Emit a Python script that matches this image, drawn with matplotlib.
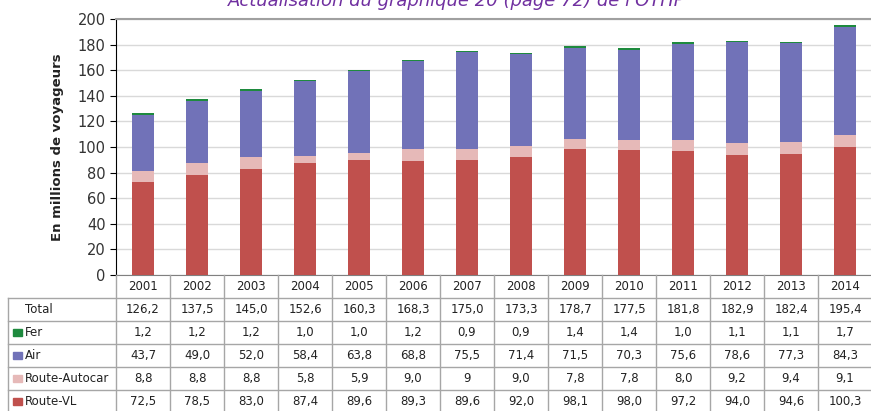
import numpy as np
import matplotlib
matplotlib.use("Agg")
import matplotlib.pyplot as plt

years = ["2001", "2002", "2003", "2004", "2005", "2006", "2007",
         "2008", "2009", "2010", "2011", "2012", "2013", "2014"]
route_vl = [72.5, 78.5, 83.0, 87.4, 89.6, 89.3, 89.6, 92.0, 98.1, 98.0, 97.2, 94.0, 94.6, 100.3]
autocar = [8.8, 8.8, 8.8, 5.8, 5.9, 9.0, 9.0, 9.0, 7.8, 7.8, 8.0, 9.2, 9.4, 9.1]
air = [43.7, 49.0, 52.0, 58.4, 63.8, 68.8, 75.5, 71.4, 71.5, 70.3, 75.6, 78.6, 77.3, 84.3]
fer = [1.2, 1.2, 1.2, 1.0, 1.0, 1.2, 0.9, 0.9, 1.4, 1.4, 1.0, 1.1, 1.1, 1.7]
total = [126.2, 137.5, 145.0, 152.6, 160.3, 168.3, 175.0, 173.3, 178.7, 177.5, 181.8, 182.9, 182.4, 195.4]
# table text as printed (2007 autocar shows "9")
autocar_txt = ["8,8", "8,8", "8,8", "5,8", "5,9", "9,0", "9", "9,0", "7,8", "7,8", "8,0", "9,2", "9,4", "9,1"]

c_vl = "#C0504D"
c_auto = "#E6B9B8"
c_air = "#7172B8"
c_fer = "#1E8A3E"

W, H = 871, 411
fig = plt.figure(figsize=(W / 100, H / 100), dpi=100)

def fx(px):
    return px / W

def fy(py):
    return 1 - py / H

# bar area
ax = fig.add_axes([fx(116), fy(275), fx(872 - 116), fy(19) - fy(275)])
x = np.arange(len(years))
bw = 0.4
b1 = np.array(route_vl)
b2 = b1 + np.array(autocar)
b3 = b2 + np.array(air)
ax.bar(x, route_vl, bw, color=c_vl, zorder=3)
ax.bar(x, autocar, bw, bottom=b1, color=c_auto, zorder=3)
ax.bar(x, air, bw, bottom=b2, color=c_air, zorder=3)
ax.bar(x, fer, bw, bottom=b3, color=c_fer, zorder=3)

ax.set_xlim(-0.5, 13.5)
ax.set_ylim(0, 200)
ax.set_yticks(range(0, 201, 20))
ax.yaxis.grid(True, color="#D9D9D9", linewidth=1, zorder=0)
ax.set_xticks([])
ax.tick_params(axis="y", labelsize=10.5, labelcolor="#333333", length=4, color="#000000")
ax.spines["right"].set_visible(False)
ax.spines["left"].set_color("black")
ax.spines["top"].set_color("#A0A0A0")
ax.spines["top"].set_linewidth(1.5)
ax.spines["bottom"].set_color("#808080")
ax.set_ylabel("En millions de voyageurs", fontsize=9.5, fontweight="bold", color="#222222", labelpad=10)

# data table
tx = fig.add_axes([fx(8), fy(413), fx(864), fy(275) - fy(413)])
tx.set_xlim(-2.5, 13.5)
tx.set_ylim(6, 0)
tx.axis("off")
grid_c = "#A6A6A6"
for r in range(1, 7):
    tx.plot([-2.5, 13.5], [r, r], color=grid_c, lw=1, clip_on=False)
tx.plot([-2.5, -2.5], [1, 6], color=grid_c, lw=1, clip_on=False)
for k in range(15):
    tx.plot([k - 0.5, k - 0.5], [0, 6], color=grid_c, lw=1, clip_on=False)

fmt = lambda v: ("%.1f" % v).replace(".", ",")
rows = [
    ("Total", None, [fmt(v) for v in total]),
    ("Fer", c_fer, [fmt(v) for v in fer]),
    ("Air", c_air, [fmt(v) for v in air]),
    ("Route-Autocar", c_auto, autocar_txt),
    ("Route-VL", c_vl, [fmt(v) for v in route_vl]),
]
tfs = 8.5
for i, yr in enumerate(years):
    tx.text(i, 0.5, yr, ha="center", va="center", fontsize=tfs, color="#222222")
for r, (name, col, vals) in enumerate(rows, start=1):
    yc = r + 0.5
    if col is not None:
        tx.add_patch(plt.Rectangle((-2.4, yc - 0.17), 0.15, 0.34, color=col, clip_on=False))
    tx.text(-2.19, yc, name, ha="left", va="center", fontsize=tfs, color="#222222")
    for i, v in enumerate(vals):
        tx.text(i, yc, v, ha="center", va="center", fontsize=tfs, color="#222222")

fig.text(fx(457), fy(6), "Actualisation du graphique 20 (page 72) de l'OTHP",
         ha="center", va="baseline", fontsize=13, style="italic", color="#7030A0")

fig.savefig("out.png", dpi=100)
